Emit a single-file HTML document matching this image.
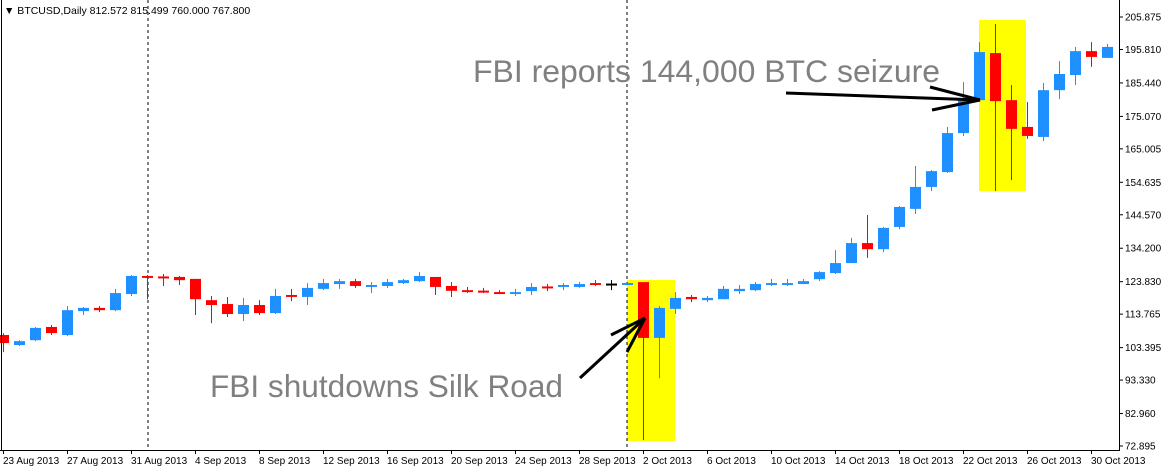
<!DOCTYPE html>
<html><head><meta charset="utf-8"><style>
body{margin:0;background:#fff;width:1162px;height:468px;overflow:hidden}
svg text{font-family:"Liberation Sans",sans-serif}
</style></head><body>
<svg id="chart" width="1162" height="468" xmlns="http://www.w3.org/2000/svg">
<rect x="0" y="0" width="1162" height="468" fill="#fff"/>
<g id="hl">
<rect x="627" y="280" width="48" height="161" fill="#ffff00"/>
<rect x="979" y="20" width="47" height="171" fill="#ffff00"/>
</g>
<line x1="148" y1="0" x2="148" y2="450" stroke="#000" stroke-dasharray="3,3"/>
<line x1="627" y1="0" x2="627" y2="450" stroke="#000" stroke-dasharray="3,3"/>
<g id="candles"></g>
<line x1="1.5" y1="0" x2="1.5" y2="450" stroke="#000"/>
<line x1="1119.5" y1="0" x2="1119.5" y2="450" stroke="#000"/>
<line x1="0" y1="450.5" x2="1120" y2="450.5" stroke="#000"/>
<g id="yax"></g>
<g id="xax"></g>
<text x="4" y="14" font-size="10.5" fill="#000">▼ BTCUSD,Daily  812.572 815.499 760.000 767.800</text>
<text x="473" y="82" font-size="31.5" fill="#808080" textLength="467" lengthAdjust="spacingAndGlyphs">FBI reports 144,000 BTC seizure</text>
<text x="210" y="397" font-size="31.5" fill="#808080" textLength="353" lengthAdjust="spacingAndGlyphs">FBI shutdowns Silk Road</text>
<g stroke="#000" stroke-width="3" fill="none">
<line x1="786" y1="93" x2="980" y2="100"/><line x1="930" y1="87" x2="980" y2="100"/><line x1="932" y1="110" x2="980" y2="100"/>
</g>
<g stroke="#000" stroke-width="3" fill="none">
<line x1="580" y1="378" x2="645" y2="318"/><line x1="611" y1="335" x2="645" y2="318"/><line x1="627" y1="352" x2="645" y2="318"/>
</g>
</svg>
<script>
const opens=[107.3,104.2,105.7,109.8,107.3,114.7,115.7,115.0,120.0,125.6,125.3,125.3,124.7,118.1,116.9,113.8,116.6,114.1,119.7,119.1,121.6,123.1,124.0,122.2,122.5,123.4,124.0,125.3,122.5,121.2,120.9,120.6,120.0,120.9,122.2,122.2,122.2,123.4,123.1,122.8,123.7,106.4,115.4,119.1,118.1,118.4,120.9,121.2,122.8,122.8,123.1,124.6,126.5,129.6,135.8,133.9,140.8,146.4,153.2,157.8,169.9,180.1,194.7,180.1,171.8,168.7,183.2,187.9,195.3,193.2];
const highs=[107.9,105.7,109.8,110.4,116.3,116.0,116.3,121.6,125.9,125.9,126.2,125.6,124.7,119.4,119.1,118.8,118.1,121.6,121.6,123.4,124.7,124.7,124.7,123.7,124.7,124.7,126.8,125.3,123.7,122.2,121.9,121.2,121.6,123.4,123.1,123.4,123.7,124.3,124.3,123.4,123.7,116.3,120.6,119.7,119.4,122.5,122.8,123.7,124.7,124.7,124.7,127.1,133.6,137.4,144.5,140.8,147.3,159.7,158.4,171.8,185.7,198.1,203.7,184.8,179.5,185.4,192.2,196.6,198.1,197.5];
const lows=[102.0,103.9,105.4,107.3,107.0,113.5,114.4,114.7,119.4,118.4,122.5,122.8,113.5,111.0,112.9,111.6,113.5,113.8,117.8,116.6,121.2,121.6,121.9,120.3,121.9,123.1,123.7,119.7,119.1,120.3,120.3,120.0,119.4,119.7,120.9,121.2,121.9,122.5,121.2,122.8,74.7,93.9,113.8,117.5,117.5,118.4,120.0,120.9,122.5,122.5,123.1,124.0,126.2,129.6,131.2,133.0,140.1,144.8,151.9,157.5,169.0,180.1,151.9,155.3,168.1,167.4,180.4,184.8,190.4,193.2];
const closes=[104.8,105.4,109.5,107.9,115.0,115.7,115.0,120.3,125.6,125.0,125.0,124.3,118.4,116.6,113.8,116.6,114.1,119.4,119.1,121.9,123.4,124.0,122.5,122.8,123.7,124.3,125.6,122.2,121.0,120.6,120.6,120.0,120.6,122.2,121.9,122.8,123.1,122.8,123.1,123.4,106.4,115.7,118.8,118.4,118.8,121.6,121.6,123.1,123.4,123.4,124.0,126.8,129.6,135.8,133.9,140.5,147.0,153.2,158.1,169.9,180.1,195.0,179.8,171.2,169.0,183.2,188.2,195.3,193.5,196.6];
const priceTicks=["205.875","195.810","185.440","175.070","165.005","154.635","144.570","134.200","123.830","113.765","103.395","93.330","82.960","72.895"];
const dateLabels=["23 Aug 2013","27 Aug 2013","31 Aug 2013","4 Sep 2013","8 Sep 2013","12 Sep 2013","16 Sep 2013","20 Sep 2013","24 Sep 2013","28 Sep 2013","2 Oct 2013","6 Oct 2013","10 Oct 2013","14 Oct 2013","18 Oct 2013","22 Oct 2013","26 Oct 2013","30 Oct 2013"];
const NS="http://www.w3.org/2000/svg";
const pTop=205.875,pBot=72.895,yTop=17,yBot=446;
function yS(p){return yTop+(pTop-p)*(yBot-yTop)/(pTop-pBot);}
function xS(i){return 3+16*i;}
function mk(t,a,parent){const e=document.createElementNS(NS,t);for(const k in a)e.setAttribute(k,a[k]);parent.appendChild(e);return e;}
const cg=document.getElementById('candles');
for(let i=0;i<opens.length;i++){
  const o=opens[i],c=closes[i],x=xS(i);
  const col=c>o?'#1e90ff':(c<o?'#ff0000':'#000');
  const g=mk('g',{},cg);
  
  
  mk('line',{x1:x+0.5,x2:x+0.5,y1:yS(highs[i]),y2:yS(lows[i]),stroke:col,'stroke-width':1},g);
  const t=yS(Math.max(o,c)),b=yS(Math.min(o,c));
  if(b-t<1.5) mk('rect',{x:x-5,y:t-0.5,width:11,height:Math.max(2,b-t+1),fill:col},g);
  else mk('rect',{x:x-5,y:t,width:11,height:b-t,fill:col},g);
}
const ya=document.getElementById('yax');
priceTicks.forEach(s=>{
  const y=yS(parseFloat(s));
  const l=mk('line',{x1:1119,x2:1123,y1:y,y2:y,stroke:'#000'},ya);
  
  
  const t=mk('text',{x:1125,y:y+3.5,'font-size':10,fill:'#000'},ya);
  
  
  t.textContent=s;
});
const xa=document.getElementById('xax');
dateLabels.forEach((s,k)=>{
  const x=xS(k*4);
  const l=mk('line',{x1:x+0.5,x2:x+0.5,y1:450,y2:454,stroke:'#000'},xa);
  
  
  const t=mk('text',{x:x,y:464,'font-size':10,fill:'#000'},xa);
  
  
  t.textContent=s;
});
</script>
</body></html>
